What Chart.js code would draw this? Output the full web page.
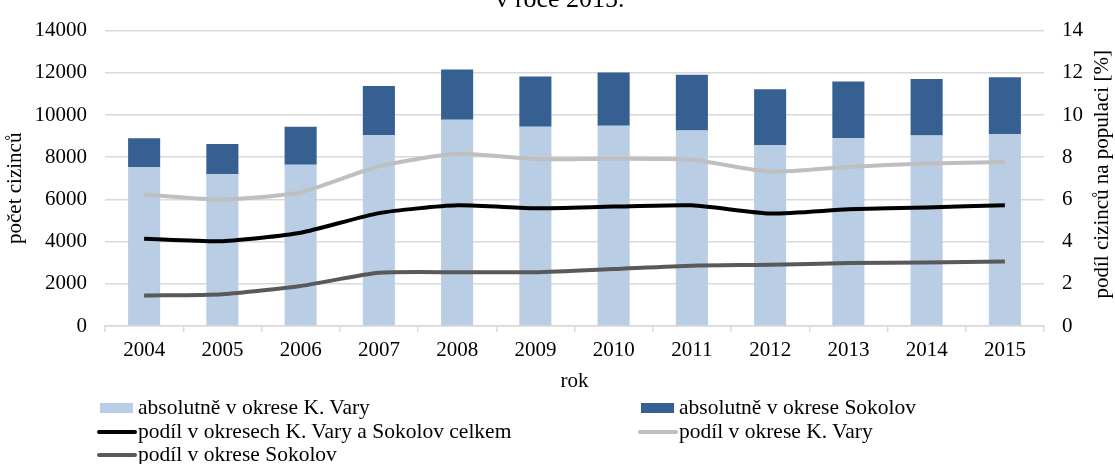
<!DOCTYPE html>
<html>
<head>
<meta charset="utf-8">
<script src="https://cdn.jsdelivr.net/npm/chart.js@4"></script>
<style>
  body { margin: 0; background: #fff; }
  #wrap { position: relative; width: 1115px; height: 464px; overflow: hidden; }
  #legend { position: absolute; left: 0; top: 396px; width: 1115px;
            font: 21.5px "Liberation Serif", "Times New Roman", serif; color: #000; }
  .item { position: absolute; display: flex; align-items: center; height: 23.5px; white-space: nowrap; }
  .sw { width: 41px; height: 23.5px; position: relative; }
  .sw span { position: absolute; }
</style>
</head>
<body>
<div id="wrap">
  <canvas id="chart" width="1115" height="464"></canvas>
  <div id="legend"></div>
</div>
<script>
// data
const years = ['2004', '2005', '2006', '2007', '2008', '2009', '2010', '2011', '2012', '2013', '2014', '2015'];
const varyAbs = [7540, 7190, 7640, 9040, 9770, 9440, 9490, 9270, 8580, 8900, 9030, 9090];
const sokolovAbs = [1360, 1430, 1800, 2330, 2390, 2380, 2520, 2640, 2640, 2690, 2680, 2700];
const totalPct = [4.14, 4.02, 4.42, 5.35, 5.72, 5.58, 5.66, 5.72, 5.33, 5.53, 5.62, 5.72];
const varyPct = [6.23, 5.99, 6.34, 7.57, 8.16, 7.91, 7.93, 7.88, 7.31, 7.54, 7.70, 7.77];
const sokolovPct = [1.44, 1.51, 1.90, 2.52, 2.55, 2.55, 2.70, 2.86, 2.90, 2.98, 3.01, 3.06];

const serif = '"Liberation Serif", "Times New Roman", serif';
Chart.defaults.font.family = serif;
Chart.defaults.font.size = 21;
Chart.defaults.color = '#000';

const gridColor = '#d9d9d9';

// title is cut off at the top of the picture
const topTitle = {
  id: 'topTitle',
  afterDraw(chart) {
    const ctx = chart.ctx;
    ctx.save();
    ctx.font = '26px ' + serif;
    ctx.fillStyle = '#000';
    ctx.textAlign = 'center';
    ctx.textBaseline = 'alphabetic';
    ctx.fillText('v roce 2015.', 560, 7);
    ctx.restore();
  }
};

// axis titles drawn by hand (right one reads bottom to top like the left one)
const sideTitles = {
  id: 'sideTitles',
  afterDraw(chart) {
    const ctx = chart.ctx;
    const area = chart.chartArea;
    const mid = (area.top + area.bottom) / 2;
    ctx.save();
    ctx.font = '21px ' + serif;
    ctx.fillStyle = '#000';
    ctx.textAlign = 'center';
    ctx.textBaseline = 'middle';
    ctx.translate(15, mid + 10);
    ctx.rotate(-Math.PI / 2);
    ctx.fillText('počet cizinců', 0, 0);
    ctx.restore();
    ctx.save();
    ctx.font = '21px ' + serif;
    ctx.fillStyle = '#000';
    ctx.textAlign = 'center';
    ctx.textBaseline = 'middle';
    ctx.translate(1102, mid - 4);
    ctx.rotate(-Math.PI / 2);
    ctx.fillText('podíl cizinců na populaci [%]', 0, 0);
    ctx.restore();
  }
};

const ctx = document.getElementById('chart').getContext('2d');
const chart = new Chart(ctx, {
  type: 'bar',
  data: {
    labels: years,
    datasets: [
      { label: 'absolutně v okrese K. Vary', data: varyAbs, backgroundColor: '#b9cde5',
        stack: 'abs', yAxisID: 'y', order: 2, barPercentage: 0.41, categoryPercentage: 1 },
      { label: 'absolutně v okrese Sokolov', data: sokolovAbs, backgroundColor: '#366092',
        stack: 'abs', yAxisID: 'y', order: 2, barPercentage: 0.41, categoryPercentage: 1 },
      { type: 'line', label: 'podíl v okresech K. Vary a Sokolov celkem', data: totalPct,
        borderColor: '#000000', borderWidth: 4, pointRadius: 0, tension: 0.2, yAxisID: 'y1', order: 0 },
      { type: 'line', label: 'podíl v okrese K. Vary', data: varyPct,
        borderColor: '#bfbfbf', borderWidth: 4, pointRadius: 0, tension: 0.2, yAxisID: 'y1', order: 1 },
      { type: 'line', label: 'podíl v okrese Sokolov', data: sokolovPct,
        borderColor: '#595959', borderWidth: 4, pointRadius: 0, tension: 0.2, yAxisID: 'y1', order: 1 }
    ]
  },
  options: {
    responsive: false,
    animation: false,
    layout: { padding: { top: 24, bottom: 69, left: 0, right: 0 } },
    plugins: {
      legend: { display: false },
      title: { display: false },
      tooltip: { enabled: false }
    },
    scales: {
      x: {
        stacked: true,
        afterFit(scale) { scale.height = 69; },
        grid: { drawOnChartArea: false, drawTicks: true, tickLength: 6, color: gridColor, lineWidth: 1.5, offset: true },
        border: { color: gridColor, width: 1.5 },
        ticks: { padding: 6, maxRotation: 0, autoSkip: false },
        title: { display: true, text: 'rok', padding: { top: 0, bottom: 1 } }
      },
      y: {
        stacked: true,
        position: 'left',
        min: 0, max: 14000,
        afterFit(scale) { scale.width = 105; },
        grid: { color: gridColor, lineWidth: 1.5, drawTicks: false },
        border: { display: false },
        ticks: { stepSize: 2000, padding: 18, callback: (v) => String(v) }
      },
      y1: {
        position: 'right',
        min: 0, max: 14,
        afterFit(scale) { scale.width = 71; },
        grid: { drawOnChartArea: false, drawTicks: false },
        border: { display: false },
        ticks: { stepSize: 2, padding: 18 }
      }
    }
  },
  plugins: [topTitle, sideTitles]
});

// legend in two columns, built from the datasets
const legendEl = document.getElementById('legend');
const slots = [[97, 0], [638, 0], [97, 1], [638, 1], [97, 2]];
chart.data.datasets.forEach((ds, i) => {
  const item = document.createElement('div');
  item.className = 'item';
  item.style.left = slots[i][0] + 'px';
  item.style.top = (slots[i][1] * 23.5) + 'px';
  const sw = document.createElement('div');
  sw.className = 'sw';
  const mark = document.createElement('span');
  if (ds.type === 'line') {
    mark.style.cssText = 'left:0;top:10px;width:40px;height:4px;border-radius:2px;background:' + ds.borderColor;
  } else {
    mark.style.cssText = 'left:3px;top:7px;width:33px;height:10px;background:' + ds.backgroundColor;
  }
  sw.appendChild(mark);
  item.appendChild(sw);
  const txt = document.createElement('span');
  txt.textContent = ds.label;
  item.appendChild(txt);
  legendEl.appendChild(item);
});
</script>
</body>
</html>
